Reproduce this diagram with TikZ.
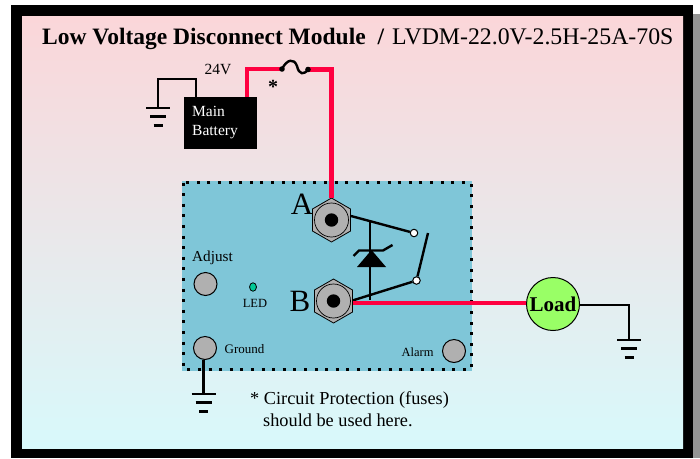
\documentclass[tikz,border=0pt]{standalone}
\usepackage{fontspec}
\setmainfont{Liberation Serif}
\usetikzlibrary{shapes.geometric}
\definecolor{wirered}{HTML}{FF0040}
\definecolor{modblue}{HTML}{7FC6D8}
\definecolor{knob}{HTML}{B0B0B0}
\definecolor{pinktop}{HTML}{FBD6D9}
\definecolor{cyanbot}{HTML}{D8F9FB}
\definecolor{loadgreen}{HTML}{99FF66}
\definecolor{ledgreen}{HTML}{00C896}
\tikzset{
  wire/.style={draw=black,line width=2.4pt},
  power/.style={draw=wirered,line width=4.8pt},
  knobnode/.style={circle,draw=black,fill=knob,line width=1pt,minimum size=23pt,inner sep=0pt},
  hexnut/.style={regular polygon,regular polygon sides=6,shape border rotate=30,draw=black,fill=knob,line width=0.8pt,minimum size=44pt,inner sep=0pt},
  contact/.style={circle,draw=black,fill=white,line width=1pt,minimum size=7.5pt,inner sep=0pt},
  txt/.style={inner sep=0pt,text=black}
}
\newcommand{\nutcore}[1]{%
  \draw[line width=0.7pt] (#1) circle (17pt);
  \fill[black] (#1) circle (6.7pt);}
\newcommand{\gndbars}[1]{%
  \draw[line width=2.2pt] ([xshift=-12pt]#1) -- ([xshift=12pt]#1);
  \draw[line width=2.2pt] ([xshift=-8pt,yshift=-8.5pt]#1) -- ([xshift=8pt,yshift=-8.5pt]#1);
  \draw[line width=2.2pt] ([xshift=-4.5pt,yshift=-17.5pt]#1) -- ([xshift=4.5pt,yshift=-17.5pt]#1);}
\begin{document}
\begin{tikzpicture}[x=1pt,y=-1pt]
\useasboundingbox (0,0) rectangle (700,458);
\fill[white] (0,0) rectangle (700,458);
\fill[black!42] (693,14) rectangle (700,458);
\fill[black] (11,5) rectangle (693,458);
\shade[top color=pinktop,bottom color=cyanbot] (22,16) rectangle (683,448);
% title
\node[txt,anchor=base west,font=\fontsize{23.5}{26}\selectfont] (title) at (42,44) {\textbf{Low Voltage Disconnect Module\ \ /}};
\node[txt,anchor=base west,font=\fontsize{23.8}{26}\selectfont] (titleb) at (392,44) {LVDM-22.0V-2.5H-25A-70S};
% module
\fill[modblue] (182,181) rectangle (472,371);
\draw[line width=3pt,dash pattern=on 3pt off 7.6pt] (183.5,182.5) rectangle (471,369.5);
% battery
\node[fill=black,minimum width=73.5pt,minimum height=52pt,inner sep=0pt,anchor=north west] (batt) at (183.5,97) {};
\node[txt,text=white,anchor=base west,font=\fontsize{15.5}{17}\selectfont] (battA) at (192,116) {Main};
\node[txt,text=white,anchor=base west,font=\fontsize{15.5}{17}\selectfont] (battB) at (192,135) {Battery};
\node[txt,font=\fontsize{15.5}{17}\selectfont] (v24) at (218,69) {24V};
\node[txt,font=\fontsize{20}{22}\bfseries\selectfont] (star) at (273,87) {*};
% nuts
\node[hexnut] (A) at (331.5,220) {};
\node[hexnut] (B) at (333.5,301) {};
\nutcore{A}\nutcore{B}
\node[txt,font=\fontsize{31}{34}\selectfont] (la) at (302,204) {A};
\node[txt,font=\fontsize{31}{34}\selectfont] (lb) at (300,301) {B};
% battery wires
\coordinate (g1a) at (196,97);
\coordinate (g1b) at (196,79);
\coordinate (g1c) at (158,79);
\coordinate (g1d) at (158,108);
\draw[wire] (g1a) -- (g1b) -- (g1c) -- (g1d);
\gndbars{g1d}
\coordinate (r1) at (247,97);
\coordinate (r2) at (247,69);
\coordinate (f1) at (282,69);
\coordinate (f2) at (308,69.5);
\coordinate (r3) at (331.5,69.5);
\coordinate (r4) at (331.5,198);
\draw[power] (r1) -- (r2) -- (f1);
\draw[power] (f2) -- (r3) -- (r4);
\draw[line width=2.4pt] (f1) .. controls (287,59) and (294,58) .. (297,66) .. controls (299,75) and (304,75) .. (f2);
\fill (f1) circle (2.8pt);
\fill (f2) circle (2.8pt);
% relay
\node[contact] (c1) at (414,233) {};
\node[contact] (c2) at (416.5,280.5) {};
\coordinate (sw) at (428,233);
\coordinate (j1) at (370,221);
\coordinate (j2) at (370,299.5);
\draw[wire] (351,216) -- (c1);
\draw[wire] (352.5,300.5) -- (c2);
\draw[wire] (c2) -- (sw);
\draw[wire] (j1) -- (j2);
\fill (357,267) -- (386,267) -- (371.5,250) -- cycle;
\draw[wire] (353.5,256) -- (359,250.5) -- (383,250.5) -- (392.5,245);
% load
\node[circle,draw=black,fill=loadgreen,line width=1pt,minimum size=53pt,inner sep=0pt,font=\fontsize{21}{24}\selectfont\bfseries] (load) at (553,304) {Load};
\coordinate (bout) at (352.5,303);
\draw[power] (bout) -- (load.west |- bout);
\coordinate (g2a) at (629,304.5);
\coordinate (g2b) at (629,340);
\draw[wire,line width=2pt] (load.east |- g2a) -- (g2a) -- (g2b);
\gndbars{g2b}
% knobs
\node[knobnode] (adj) at (205.5,284) {};
\node[knobnode] (gnd) at (205,348) {};
\node[knobnode] (alm) at (454,351) {};
\node[txt,font=\fontsize{15.2}{17}\selectfont] (adjt) at (212.5,258) {Adjust};
\node[txt,font=\fontsize{13}{15}\selectfont,anchor=west] (gndt) at (224.5,349) {Ground};
\node[txt,font=\fontsize{12.5}{15}\selectfont] (almt) at (417.5,352) {Alarm};
\node[ellipse,draw=black,fill=ledgreen,line width=0.8pt,minimum width=7pt,minimum height=8.5pt,inner sep=0pt] (led) at (253,287) {};
\node[txt,font=\fontsize{12.5}{15}\selectfont] (ledt) at (255,303) {LED};
% module ground
\coordinate (g3) at (203.5,394);
\draw[wire] (gnd.south -| g3) -- (g3);
\gndbars{g3}
% footer
\node[txt,anchor=base west,font=\fontsize{18.3}{20}\selectfont] (f1t) at (250,404) {* Circuit Protection (fuses)};
\node[txt,anchor=base west,font=\fontsize{18.3}{20}\selectfont] (f2t) at (263,426) {should be used here.};
\end{tikzpicture}
\end{document}
